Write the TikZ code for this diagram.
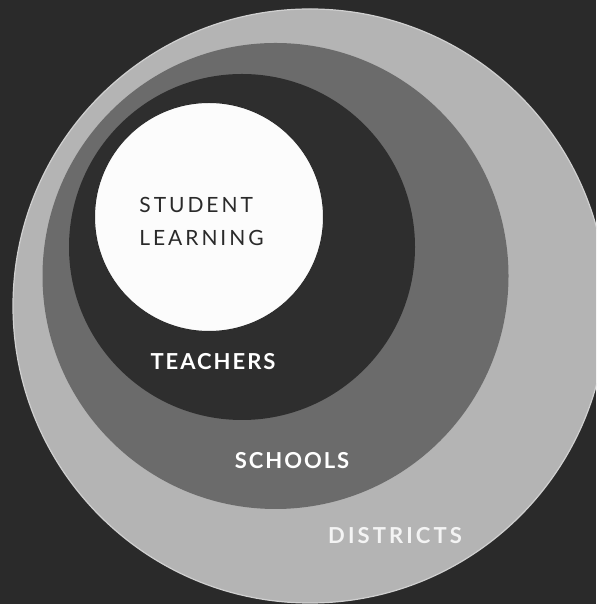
\documentclass[tikz,border=0pt]{standalone}
\usepackage{fontspec}
\usepackage{xcolor}
\usepackage{tikz}
\setmainfont{Lato}
\newfontfamily\centrefont[LetterSpace=14]{Lato}
\newfontfamily\ringfont[LetterSpace=9]{Lato Bold}
\newfontfamily\outerfont[LetterSpace=14]{Lato Bold}
\definecolor{bgdark}{HTML}{2A2A2A}
\definecolor{districtgray}{HTML}{B4B4B4}
\definecolor{districtrim}{HTML}{D0D0D0}
\definecolor{schoolgray}{HTML}{6B6B6B}
\definecolor{teacherdark}{HTML}{2E2E2E}
\definecolor{learningwhite}{HTML}{FCFCFC}
\definecolor{inkdark}{HTML}{2A2A2A}
\definecolor{labelwhite}{HTML}{F4F4F4}

\tikzset{
  ringlabel/.style={inner sep=0pt, text=white, font=\ringfont\fontsize{22}{26}\selectfont},
}

\begin{document}
\begin{tikzpicture}[x=1pt, y=1pt]
    \useasboundingbox (0,0) rectangle (596,604);
    \fill[bgdark] (0,0) rectangle (596,604);
    \clip (0,0) rectangle (596,604);

    % Rings, outermost first
    \fill[districtgray, draw=districtrim, line width=1.2pt] (310,298) circle (297pt);
    \fill[schoolgray] (275.5,328) circle (233pt);
    \fill[teacherdark] (242,357) circle (173pt);
    \fill[learningwhite, draw=inkdark, line width=1pt] (209,387) circle (114.5pt);

    % Labels
    \node[inner sep=0pt, align=left, text=inkdark, font=\centrefont\fontsize{21}{33}\selectfont] (student) at (201.5,383) {STUDENT\\LEARNING};
    \node[ringlabel] (teachers) at (213,242.5) {TEACHERS};
    \node[ringlabel] (schools) at (292,143.5) {SCHOOLS};
    \node[ringlabel, text=labelwhite, font=\outerfont\fontsize{22}{26}\selectfont] (districts) at (395,68.5) {DISTRICTS};
\end{tikzpicture}
\end{document}
